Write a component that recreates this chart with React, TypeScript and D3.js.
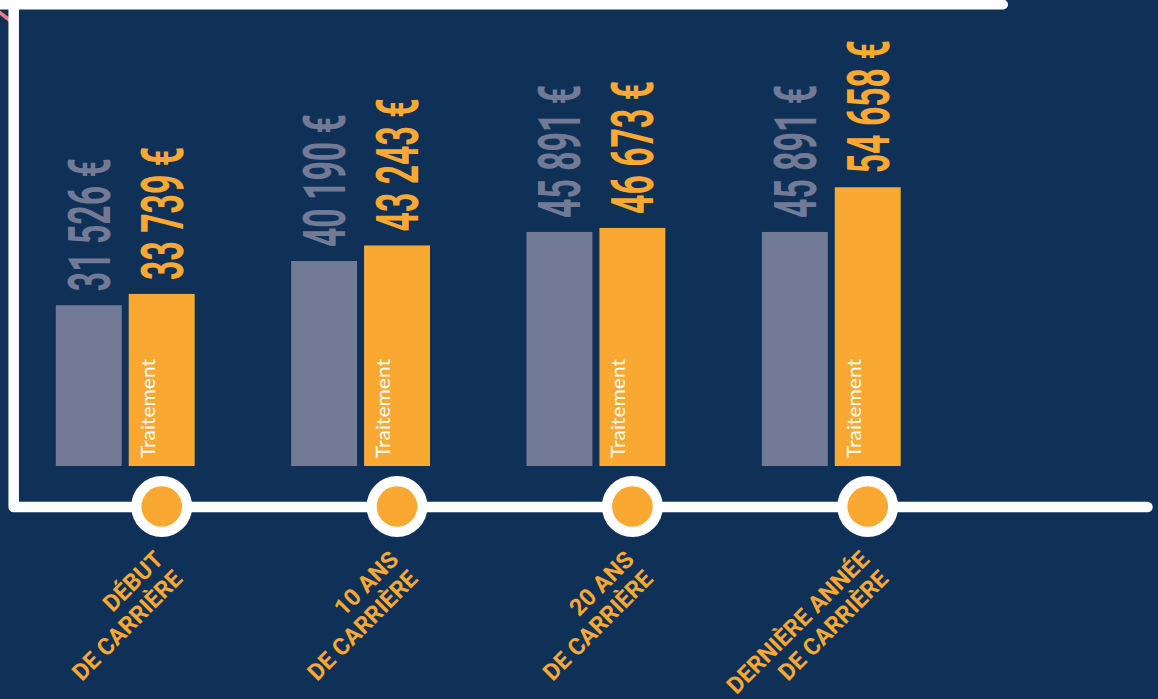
import React from "react";
import * as d3 from "d3";

const categoryLines: string[][] = [
  ["DÉBUT", "DE CARRIÈRE"],
  ["10 ANS", "DE CARRIÈRE"],
  ["20 ANS", "DE CARRIÈRE"],
  ["DERNIÈRE ANNÉE", "DE CARRIÈRE"],
];
const categoryKeys = ["debut", "10ans", "20ans", "derniere"];
const seriesKeys = ["brut", "traitement"];
const brutValues = [31526, 40190, 45891, 45891];
const traitementValues = [33739, 43243, 46673, 54658];
const barTextLabel = "Traitement";

const W = 1158;
const H = 699;
const BG = "#0f3157";
const GRAY = "#737a96";
const ORANGE = "#f9a832";
const WHITE = "#ffffff";

const locale = d3.formatLocale({
  decimal: ",",
  thousands: " ",
  grouping: [3],
  currency: ["", " €"],
});
const fmt = locale.format("$,.0f");

export default function App() {
  const x0 = d3
    .scaleBand<string>()
    .domain(categoryKeys)
    .range([55.8, 900.7])
    .paddingInner(0.41)
    .paddingOuter(0);
  const x1 = d3
    .scaleBand<string>()
    .domain(seriesKeys)
    .range([0, x0.bandwidth()])
    .paddingInner(0.0959)
    .paddingOuter(0);
  const y = d3.scaleLinear().domain([0, 60000]).range([466, 160]);

  const axisY = 507;

  return (
    <svg
      width={W}
      height={H}
      style={{ position: "absolute", left: 0, top: 0, display: "block" }}
    >
      <rect x={0} y={0} width={W} height={H} fill={BG} />
      <line x1={-6} y1={8} x2={12} y2={22} stroke="#f07f80" strokeWidth={3.5} />
      <line x1={-20} y1={4.5} x2={1003} y2={4.5} stroke={WHITE} strokeWidth={10} strokeLinecap="round" />
      <path
        d={`M13.7,-20 V${axisY} H1147.5`}
        fill="none"
        stroke={WHITE}
        strokeWidth={10.5}
        strokeLinecap="round"
        strokeLinejoin="round"
      />
      {categoryKeys.map((k, i) => {
        const gx = x0(k)!;
        const vals = [brutValues[i], traitementValues[i]];
        const cx = gx + x1("traitement")! + x1.bandwidth() / 2;
        return (
          <g key={k}>
            {seriesKeys.map((s, j) => {
              const bx = gx + x1(s)!;
              const top = y(vals[j]);
              const bcx = bx + x1.bandwidth() / 2;
              const color = j === 0 ? GRAY : ORANGE;
              return (
                <g key={s}>
                  <rect x={bx} y={top} width={x1.bandwidth()} height={y(0) - top} fill={color} />
                  <g transform={`translate(${bcx},${top - 14}) rotate(-90)`}>
                    <text
                      x={0}
                      y={21}
                      fill={color}
                      fontFamily="Roboto, sans-serif"
                      fontWeight={700}
                      fontSize={60}
                      textLength={133}
                      lengthAdjust="spacingAndGlyphs"
                    >
                      {fmt(vals[j])}
                    </text>
                  </g>
                  {j === 1 && (
                    <g transform={`translate(${bx + 26},${y(0) - 8}) rotate(-90)`}>
                      <text
                        x={0}
                        y={0}
                        fill={WHITE}
                        fontFamily="Lato, sans-serif"
                        fontSize={20}
                        textLength={99}
                        lengthAdjust="spacingAndGlyphs"
                      >
                        {barTextLabel}
                      </text>
                    </g>
                  )}
                </g>
              );
            })}
            <circle cx={cx} cy={axisY - 0.5} r={30.5} fill={WHITE} />
            <circle cx={cx} cy={axisY - 0.5} r={20.3} fill={ORANGE} />
            <g transform={`translate(${cx + 3},561) rotate(-45)`}>
              <text
                textAnchor="end"
                fill={ORANGE}
                fontFamily="Roboto, sans-serif"
                fontWeight={700}
                fontSize={23.5}
              >
                {categoryLines[i].map((line, li) => (
                  <tspan key={li} x={0} y={li * 27}>
                    {line}
                  </tspan>
                ))}
              </text>
            </g>
          </g>
        );
      })}
    </svg>
  );
}
